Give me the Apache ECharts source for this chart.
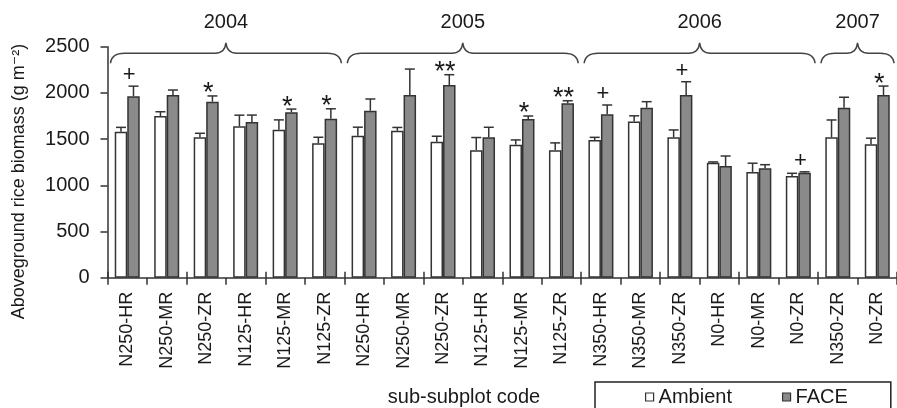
<!DOCTYPE html>
<html>
<head>
<meta charset="utf-8">
<script src="https://cdn.jsdelivr.net/npm/echarts@6/dist/echarts.min.js"></script>
<style>
html,body{margin:0;padding:0;background:#fff;}
#chart{width:897px;height:408px;}
</style>
</head>
<body>
<div id="chart"></div>
<script>
// ---- data ----
const categories = ['N250-HR','N250-MR','N250-ZR','N125-HR','N125-MR','N125-ZR',
                    'N250-HR','N250-MR','N250-ZR','N125-HR','N125-MR','N125-ZR',
                    'N350-HR','N350-MR','N350-ZR','N0-HR','N0-MR','N0-ZR',
                    'N350-ZR','N0-ZR'];
const ambient    = [1580,1750,1520,1640,1600,1455,1535,1590,1470,1380,1440,1380,1490,1690,1520,1245,1145,1100,1520,1445];
const ambientErr = [47,46,43,119,108,65,94,36,61,137,51,79,29,62,79,8,94,30,187,65];
const face       = [1965,1977,1905,1685,1790,1720,1807,1977,2085,1520,1717,1887,1768,1840,1977,1209,1184,1136,1840,1977];
const faceErr    = [108,54,62,75,35,108,127,281,112,108,33,28,101,65,144,108,39,10,113,97];
const sig        = ['+','','*','','*','*','','','**','','*','**','+','','+','','','+','','*'];
const years      = ['2004','2005','2006','2007'];
const yearStart  = [0,6,12,18];
const yearEnd    = [5,11,17,19];
const yMin = 0, yMax = 2500, yStep = 500;

// ---- styles ----
const FONT = 'Liberation Sans, Arial, DejaVu Sans, sans-serif';
const INK = '#1a1a1a';
const LINE = '#333';
const BAR_W = 12.5;

const chart = echarts.init(document.getElementById('chart'));

function errRender(sign) {
  return function (params, api) {
    const i = api.value(0);
    const base = api.coord([i, api.value(1)]);
    const top = api.coord([i, api.value(1) + api.value(2)]);
    const x = base[0] + sign * BAR_W / 2;
    const st = {stroke: LINE, lineWidth: 1.5};
    return {type: 'group', children: [
      {type: 'line', shape: {x1: x, y1: base[1], x2: x, y2: top[1]}, style: st},
      {type: 'line', shape: {x1: x - 5, y1: top[1], x2: x + 5, y2: top[1]}, style: st}
    ]};
  };
}

function sigRender(params, api) {
  const i = api.value(0);
  const s = sig[i];
  if (!s) return null;
  const p = api.coord([i, api.value(1)]);
  const isStar = s.indexOf('*') >= 0;
  return {type: 'text', x: p[0] + 2, y: p[1] - (isStar ? 2 : 11),
    style: {text: s, fill: INK, fontSize: isStar ? 27 : 22, fontFamily: FONT,
            align: 'center', verticalAlign: 'middle'}};
}

function braceRender(params, api) {
  const s = api.value(0), e = api.value(1);
  const bw = api.size([1, 0])[0];
  const x0 = api.coord([s, 0])[0] - bw / 2 + 3;
  const x1 = api.coord([e, 0])[0] + bw / 2 - 3;
  const xm = (x0 + x1) / 2;
  const top = params.coordSys.y;
  const yE = top + 16.5, yH = top + 6.5, yP = top - 4;
  const d = 'M' + x0 + ' ' + yE +
            ' Q' + (x0 + 1) + ' ' + yH + ' ' + (x0 + 14) + ' ' + yH +
            ' L' + (xm - 11) + ' ' + yH +
            ' Q' + (xm - 1) + ' ' + yH + ' ' + xm + ' ' + yP +
            ' Q' + (xm + 1) + ' ' + yH + ' ' + (xm + 11) + ' ' + yH +
            ' L' + (x1 - 14) + ' ' + yH +
            ' Q' + (x1 - 1) + ' ' + yH + ' ' + x1 + ' ' + yE;
  return {type: 'group', children: [
    {type: 'path', shape: {pathData: d}, style: {stroke: '#444', lineWidth: 1.5, fill: null}},
    {type: 'text', x: xm, y: top - 24,
     style: {text: years[params.dataIndex], fill: INK, fontSize: 20, fontFamily: FONT,
             align: 'center', verticalAlign: 'middle'}}
  ]};
}

const option = {
  animation: false,
  textStyle: {fontFamily: FONT, color: INK},
  grid: {left: 107.5, top: 46.7, width: 800, height: 231},
  legend: {
    left: 595, top: 382, orient: 'horizontal',
    padding: [5, 43, 30, 50],
    borderColor: '#222', borderWidth: 1.5, backgroundColor: '#fff',
    itemWidth: 8, itemHeight: 8, itemGap: 50, icon: 'rect',
    textStyle: {fontSize: 20, color: INK, fontFamily: FONT},
    data: [
      {name: 'Ambient', itemStyle: {color: '#fff', borderColor: LINE, borderWidth: 1.2}},
      {name: 'FACE', itemStyle: {color: '#8a8a8a', borderColor: LINE, borderWidth: 1.2}}
    ]
  },
  xAxis: [{
    type: 'category', data: categories, position: 'bottom',
    axisLine: {show: true, lineStyle: {color: LINE, width: 1.5}},
    axisTick: {show: true, length: 7, lineStyle: {color: LINE, width: 1.5}},
    axisLabel: {rotate: 90, fontSize: 18, color: INK, margin: 14, interval: 0, fontFamily: FONT}
  }, {
    type: 'category', data: categories, position: 'bottom', gridIndex: 0,
    axisLine: {show: false},
    axisTick: {show: true, inside: true, length: 6, lineStyle: {color: LINE, width: 1.5}},
    axisLabel: {show: false}
  }],
  yAxis: {
    type: 'value', min: yMin, max: yMax, interval: yStep,
    axisLine: {show: true, lineStyle: {color: LINE, width: 1.5}},
    axisTick: {show: true, length: 7, lineStyle: {color: LINE, width: 1.5}},
    splitLine: {show: false},
    axisLabel: {fontSize: 20, color: INK, margin: 18, fontFamily: FONT,
                formatter: function (v) { return String(v); }}
  },
  graphic: [
    {type: 'text', x: 19, y: 181.5, rotation: Math.PI / 2,
     style: {text: 'Aboveground rice biomass (g m\u207B\u00B2)', fill: INK, fontSize: 18,
             fontFamily: FONT, align: 'center', verticalAlign: 'middle'}},
    {type: 'text', x: 464, y: 397,
     style: {text: 'sub-subplot code', fill: INK, fontSize: 20, fontFamily: FONT,
             align: 'center', verticalAlign: 'middle'}}
  ],
  series: [
    {name: 'Ambient', type: 'bar', data: ambient, barWidth: BAR_W, barGap: '0%',
     itemStyle: {color: '#fff', borderColor: LINE, borderWidth: 1.5}},
    {name: 'FACE', type: 'bar', data: face, barWidth: BAR_W, barGap: '0%',
     itemStyle: {color: '#8a8a8a', borderColor: LINE, borderWidth: 1.5}},
    {type: 'custom', renderItem: errRender(-1), clip: false, z: 5,
     data: ambient.map((v, i) => [i, v, ambientErr[i]])},
    {type: 'custom', renderItem: errRender(1), clip: false, z: 5,
     data: face.map((v, i) => [i, v, faceErr[i]])},
    {type: 'custom', renderItem: sigRender, clip: false, z: 6,
     data: sig.map((s, i) => [i, Math.max(ambient[i] + ambientErr[i], face[i] + faceErr[i])])},
    {type: 'custom', renderItem: braceRender, clip: false, z: 6,
     data: yearStart.map((s, k) => [s, yearEnd[k]])}
  ]
};
chart.setOption(option);
</script>
</body>
</html>
